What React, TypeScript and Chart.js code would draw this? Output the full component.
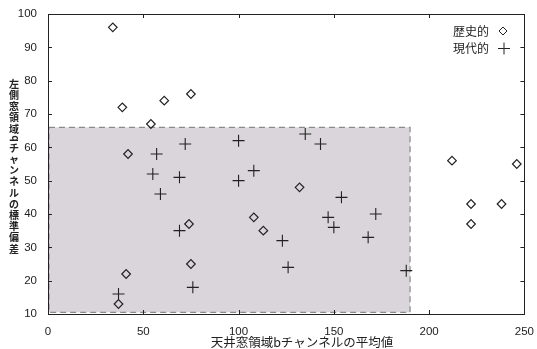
import React, { useEffect, useRef } from "react";
import { Chart, registerables } from "chart.js";

Chart.register(...registerables);

const historicalX = [34, 39, 61, 75, 54, 42, 41, 37, 74, 75, 108, 113, 132, 222, 238, 222, 212, 246];
const historicalY = [96, 72, 74, 76, 67, 58, 22, 13, 37, 25, 39, 35, 48, 43, 43, 37, 56, 55];
const modernX = [100, 72, 57, 55, 69, 59, 100, 108, 69, 37, 76, 135, 143, 154, 147, 150, 172, 168, 123, 126, 188];
const modernY = [62, 61, 58, 52, 51, 46, 50, 53, 35, 16, 18, 64, 61, 45, 39, 36, 40, 33, 32, 24, 23];
const regionX = [0.5, 190];
const regionY = [10.5, 66];
const xRange = [0, 250];
const yRange = [10, 100];
const seriesLabels = ["歴史的", "現代的"];
const xTitle = "天井窓領域bチャンネルの平均値";
const yTitle = "左側窓領域bチャンネルの標準偏差";

const INK = "#222";
const CJK = '"Noto Sans CJK JP", "Noto Sans", sans-serif';

function drawDiamond(ctx: CanvasRenderingContext2D, x: number, y: number, r: number) {
  ctx.beginPath();
  ctx.moveTo(x, y - r);
  ctx.lineTo(x + r, y);
  ctx.lineTo(x, y + r);
  ctx.lineTo(x - r, y);
  ctx.closePath();
  ctx.stroke();
}
function drawPlus(ctx: CanvasRenderingContext2D, x: number, y: number, r: number) {
  ctx.beginPath();
  ctx.moveTo(x - r, y);
  ctx.lineTo(x + r, y);
  ctx.moveTo(x, y - r);
  ctx.lineTo(x, y + r);
  ctx.stroke();
}

const decorPlugin = {
  id: "decor",
  beforeDatasetsDraw(chart: any) {
    const { ctx, scales } = chart;
    const x = scales.x, y = scales.y;
    const l = x.getPixelForValue(regionX[0]);
    const r = x.getPixelForValue(regionX[1]);
    const t = y.getPixelForValue(regionY[1]);
    const b = y.getPixelForValue(regionY[0]);
    ctx.save();
    ctx.fillStyle = "#d9d5db";
    ctx.fillRect(l, t, r - l, b - t);
    ctx.strokeStyle = "#8a8a8a";
    ctx.lineWidth = 1.2;
    ctx.setLineDash([6, 4]);
    ctx.strokeRect(l, t, r - l, b - t);
    ctx.restore();
  },
  afterDatasetsDraw(chart: any) {
    const { ctx, chartArea: a, scales } = chart;
    ctx.save();
    ctx.strokeStyle = INK;
    ctx.lineWidth = 1;
    ctx.strokeRect(Math.round(a.left) + 0.5, Math.round(a.top) + 0.5, Math.round(a.right - a.left), Math.round(a.bottom - a.top));
    const tl = 4;
    ctx.beginPath();
    scales.x.ticks.forEach((tk: any) => {
      const px = Math.round(scales.x.getPixelForValue(tk.value)) + 0.5;
      ctx.moveTo(px, a.top);
      ctx.lineTo(px, a.top + tl);
      ctx.moveTo(px, a.bottom);
      ctx.lineTo(px, a.bottom - tl);
    });
    scales.y.ticks.forEach((tk: any) => {
      const py = Math.round(scales.y.getPixelForValue(tk.value)) + 0.5;
      ctx.moveTo(a.left, py);
      ctx.lineTo(a.left + tl, py);
      ctx.moveTo(a.right, py);
      ctx.lineTo(a.right - tl, py);
    });
    ctx.stroke();

    // legend
    ctx.fillStyle = INK;
    ctx.font = `12px ${CJK}`;
    ctx.textBaseline = "middle";
    ctx.textAlign = "left";
    ctx.fillText(seriesLabels[0], 453, 31);
    ctx.fillText(seriesLabels[1], 453, 48.5);
    ctx.lineWidth = 1;
    drawDiamond(ctx, 503, 31, 4);
    drawPlus(ctx, 504, 48.5, 6);

    // x title
    ctx.font = `12.5px ${CJK}`;
    ctx.textAlign = "center";
    ctx.fillText(xTitle, 302, 342);

    // y title vertical stacked
    ctx.font = `bold 10px ${CJK}`;
    let yy = 84;
    const cx = 14;
    for (const ch of Array.from(yTitle)) {
      if (/[A-Za-z]/.test(ch)) {
        yy -= 1.5;
        ctx.save();
        ctx.translate(cx, yy);
        ctx.rotate(-Math.PI / 2);
        ctx.fillText(ch, 0, 0);
        ctx.restore();
        yy += 9.5;
      } else {
        ctx.fillText(ch, cx, yy);
        yy += 11.2;
      }
    }
    ctx.restore();
  },
};

export default function App() {
  const ref = useRef<HTMLCanvasElement | null>(null);
  useEffect(() => {
    if (!ref.current) return;
    const chart = new Chart(ref.current, {
      type: "scatter",
      data: {
        datasets: [
          {
            label: seriesLabels[0],
            data: historicalX.map((v, i) => ({ x: v, y: historicalY[i] })),
            pointStyle: "rectRot",
            pointRadius: 4.3,
            borderColor: INK,
            backgroundColor: "rgba(0,0,0,0)",
            borderWidth: 1.2,
          },
          {
            label: seriesLabels[1],
            data: modernX.map((v, i) => ({ x: v, y: modernY[i] })),
            pointStyle: "cross",
            pointRadius: 6,
            borderColor: INK,
            backgroundColor: INK,
            borderWidth: 1.1,
          },
        ],
      },
      options: {
        animation: false,
        responsive: false,
        layout: { padding: { left: 0, top: 14, right: 7, bottom: 0 } },
        plugins: { legend: { display: false }, tooltip: { enabled: false } },
        scales: {
          x: {
            type: "linear",
            min: xRange[0],
            max: xRange[1],
            grid: { display: false },
            border: { display: false },
            ticks: { stepSize: 50, color: INK, padding: 3, font: { family: "Liberation Sans", size: 11.5 }, maxRotation: 0 },
            afterFit: (s: any) => { s.height = 35; },
          },
          y: {
            type: "linear",
            min: yRange[0],
            max: yRange[1],
            grid: { display: false },
            border: { display: false },
            ticks: { stepSize: 10, color: INK, padding: 3, font: { family: "Liberation Sans", size: 11.5 } },
            afterFit: (s: any) => { s.width = 48; },
          },
        },
      },
      plugins: [decorPlugin],
    } as any);
    return () => chart.destroy();
  }, []);
  return (
    <div style={{ position: "absolute", left: 0, top: 0, width: 537, height: 349, background: "#fff" }}>
      <canvas ref={ref} width={537} height={349} style={{ display: "block" }} />
    </div>
  );
}
